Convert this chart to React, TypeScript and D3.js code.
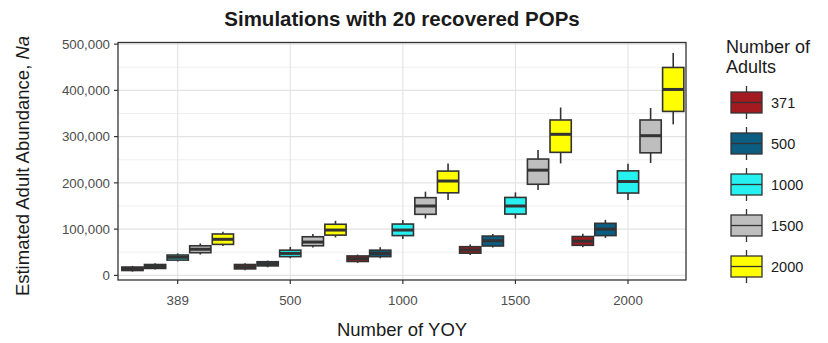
import React from 'react';
import * as d3 from 'd3';

// Number of YOY (x categories) and number of adults (fill groups)
const yoyLabels = ['389', '500', '1000', '1500', '2000'];
const adultGroups = ['371', '500', '1000', '1500', '2000'];
const adultColors = ['#A31B20', '#0B5E82', '#26F0F0', '#BEBEBE', '#FFFF00'];

// Box statistics per YOY level: [lower whisker, Q1, median, Q3, upper whisker]
const adults371 = [
  [8000, 10500, 14300, 18000, 20500],
  [11000, 14000, 18600, 23500, 26000],
  [27000, 30000, 36000, 42000, 45000],
  [44000, 48000, 55000, 62000, 67000],
  [61000, 65000, 74000, 84000, 90000],
];
const adults500 = [
  [12500, 15000, 19000, 23500, 26000],
  [17500, 20500, 25000, 29500, 32000],
  [37000, 40500, 47500, 54500, 61000],
  [60000, 63500, 75000, 85000, 89500],
  [81000, 86000, 100000, 112500, 120000],
];
const adults1000 = [
  [30000, 33000, 39000, 44000, 47500],
  [37000, 40500, 47500, 54500, 61500],
  [78500, 86000, 98000, 111000, 119500],
  [123000, 132500, 150000, 168500, 179500],
  [163000, 178000, 203000, 226000, 241500],
];
const adults1500 = [
  [45000, 49000, 56500, 64000, 69000],
  [60000, 64000, 72000, 83500, 89500],
  [123000, 132000, 150000, 168000, 181000],
  [184500, 197000, 227500, 251500, 271000],
  [243000, 265000, 302000, 336000, 362000],
];
const adults2000 = [
  [63500, 67000, 78000, 89500, 94500],
  [82000, 87000, 98000, 110500, 118000],
  [163000, 178500, 204000, 225500, 242000],
  [242000, 266000, 305000, 336000, 363000],
  [326500, 354500, 402000, 449500, 481000],
];
const boxStats = [adults371, adults500, adults1000, adults1500, adults2000];

const yTicks = [0, 100000, 200000, 300000, 400000, 500000];
const yMinor = [50000, 150000, 250000, 350000, 450000];

const W = 828;
const H = 343;
const panel = { left: 118, right: 686, top: 42.5, bottom: 280 };
const FONT = '"Liberation Sans", Arial, Helvetica, sans-serif';
const INK = '#333333';

export default function App() {
  const x = d3.scaleBand<string>().domain(yoyLabels).range([121.4, 684.3]).padding(0);
  const inner = d3
    .scaleBand<string>()
    .domain(adultGroups)
    .range([0, x.bandwidth()])
    .paddingInner(0.06)
    .paddingOuter(0.02);
  const y = d3.scaleLinear().domain([-10000, 503500]).range([panel.bottom, panel.top]);
  const fmt = d3.format(',');

  const boxes: React.ReactNode[] = [];
  boxStats.forEach((rows, gi) => {
    rows.forEach((s, yi) => {
      const [lo, q1, med, q3, hi] = s;
      const x0 = (x(yoyLabels[yi]) as number) + (inner(adultGroups[gi]) as number);
      const bw = inner.bandwidth();
      const cx = x0 + bw / 2;
      boxes.push(
        <g key={`${gi}-${yi}`}>
          <line x1={cx} x2={cx} y1={y(hi)} y2={y(q3)} stroke={INK} strokeWidth={1.6} />
          <line x1={cx} x2={cx} y1={y(q1)} y2={y(lo)} stroke={INK} strokeWidth={1.6} />
          <rect
            x={x0}
            y={y(q3)}
            width={bw}
            height={Math.max(0.5, y(q1) - y(q3))}
            fill={adultColors[gi]}
            stroke={INK}
            strokeWidth={1.6}
          />
          <line x1={x0} x2={x0 + bw} y1={y(med)} y2={y(med)} stroke={INK} strokeWidth={3} />
        </g>
      );
    });
  });

  const cx = (panel.left + panel.right) / 2;

  return (
    <svg
      width={W}
      height={H}
      viewBox={`0 0 ${W} ${H}`}
      style={{ position: 'absolute', left: 0, top: 0, background: '#fff' }}
      fontFamily={FONT}
    >
      <rect x={0} y={0} width={W} height={H} fill="#fff" />
      {/* title */}
      <text x={cx} y={26} textAnchor="middle" fontSize={20.5} fontWeight="bold" fill="#1a1a1a">
        Simulations with 20 recovered POPs
      </text>

      {/* grid */}
      <g>
        {yMinor.map((v) => (
          <line key={`mn${v}`} x1={panel.left} x2={panel.right} y1={y(v)} y2={y(v)} stroke="#EBEBEB" strokeWidth={0.8} />
        ))}
        {yTicks.map((v) => (
          <line key={`mj${v}`} x1={panel.left} x2={panel.right} y1={y(v)} y2={y(v)} stroke="#E3E3E3" strokeWidth={1.1} />
        ))}
        {yoyLabels.map((c) => {
          const px = (x(c) as number) + x.bandwidth() / 2;
          return <line key={`vx${c}`} x1={px} x2={px} y1={panel.top} y2={panel.bottom} stroke="#E3E3E3" strokeWidth={1.1} />;
        })}
      </g>

      {boxes}

      {/* panel border */}
      <rect
        x={panel.left}
        y={panel.top}
        width={panel.right - panel.left}
        height={panel.bottom - panel.top}
        fill="none"
        stroke={INK}
        strokeWidth={1.3}
      />

      {/* y axis */}
      <g>
        {yTicks.map((v) => (
          <g key={`yt${v}`}>
            <line x1={panel.left - 4} x2={panel.left} y1={y(v)} y2={y(v)} stroke={INK} strokeWidth={1.2} />
            <text x={panel.left - 8} y={y(v)} dy="0.35em" textAnchor="end" fontSize={13.3} fill="#4D4D4D">
              {fmt(v)}
            </text>
          </g>
        ))}
      </g>

      {/* x axis */}
      <g>
        {yoyLabels.map((c) => {
          const px = (x(c) as number) + x.bandwidth() / 2;
          return (
            <g key={`xt${c}`}>
              <line x1={px} x2={px} y1={panel.bottom} y2={panel.bottom + 4} stroke={INK} strokeWidth={1.2} />
              <text x={px} y={305} textAnchor="middle" fontSize={13.3} fill="#4D4D4D">
                {c}
              </text>
            </g>
          );
        })}
      </g>

      {/* axis titles */}
      <text x={cx} y={336} textAnchor="middle" fontSize={18.5} fill="#1a1a1a">
        Number of YOY
      </text>
      <text transform={`translate(29, 166) rotate(-90)`} textAnchor="middle" fontSize={18.5} fill="#1a1a1a">
        Estimated Adult Abundance, <tspan fontStyle="italic">Na</tspan>
      </text>

      {/* legend */}
      <g>
        <text x={726} y={53} fontSize={18} fill="#1a1a1a">
          Number of
        </text>
        <text x={726} y={73} fontSize={18} fill="#1a1a1a">
          Adults
        </text>
        {adultGroups.map((g, i) => {
          const top = 92 + i * 41;
          const bx = 731;
          const bw = 31;
          const bh = 21;
          const mx = bx + bw / 2;
          return (
            <g key={`lg${g}`}>
              <line x1={mx} x2={mx} y1={top - 6} y2={top} stroke={INK} strokeWidth={1.3} />
              <line x1={mx} x2={mx} y1={top + bh} y2={top + bh + 6} stroke={INK} strokeWidth={1.3} />
              <rect x={bx} y={top} width={bw} height={bh} fill={adultColors[i]} stroke={INK} strokeWidth={1.3} />
              <line x1={bx} x2={bx + bw} y1={top + bh / 2} y2={top + bh / 2} stroke={INK} strokeWidth={1.3} />
              <text x={771} y={top + bh / 2} dy="0.35em" fontSize={14.5} fill="#1a1a1a">
                {g}
              </text>
            </g>
          );
        })}
      </g>
    </svg>
  );
}
